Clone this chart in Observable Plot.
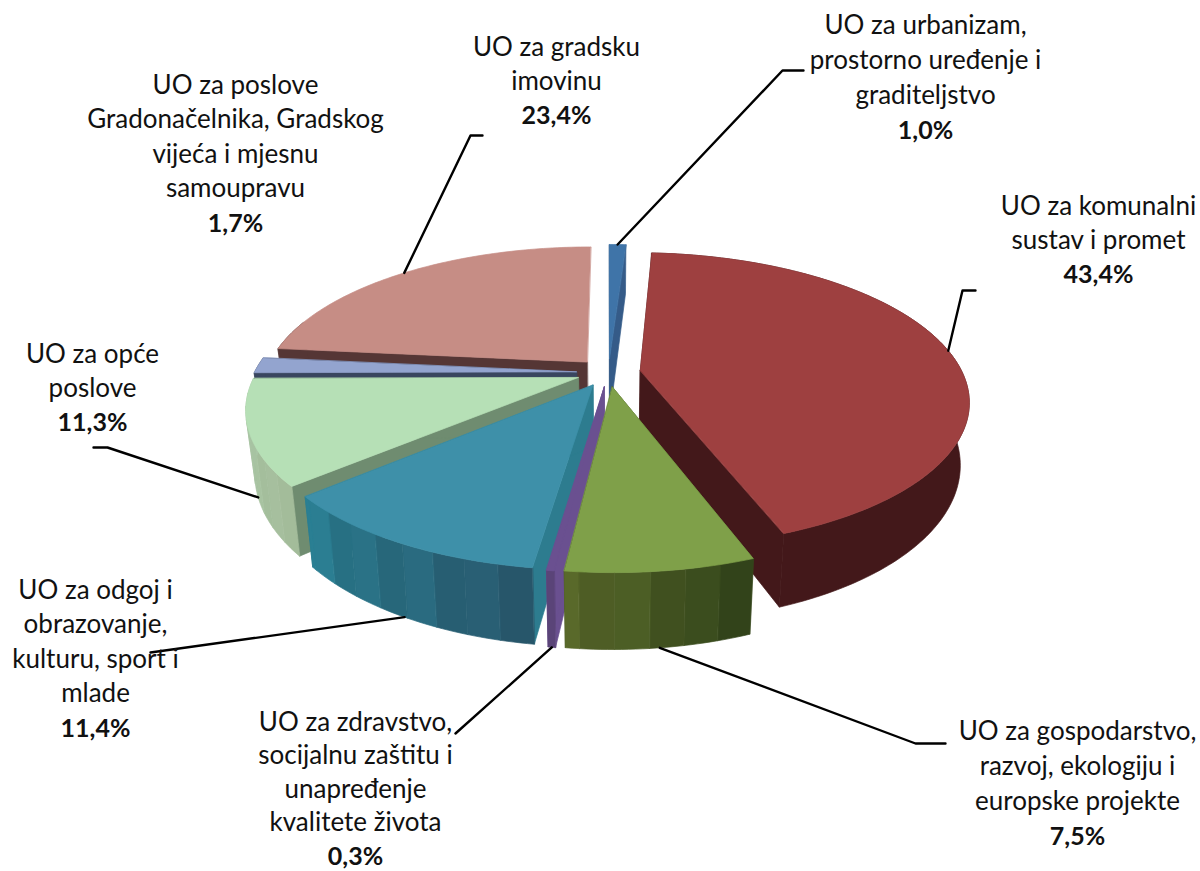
<!DOCTYPE html>
<html>
<head>
<meta charset="utf-8">
<script src="https://cdn.jsdelivr.net/npm/d3@7"></script>
<script src="https://cdn.jsdelivr.net/npm/@observablehq/plot@0.6"></script>
<style>html,body{margin:0;padding:0;background:#fff}svg{display:block}</style>
</head>
<body>
<div id="chart"></div>
<script>
// Data, clockwise from twelve o'clock
const slices = ["blue","red","green","purple","teal","lightgreen","periwinkle","pink"];
const shares = [1.0, 43.4, 7.5, 0.3, 11.4, 11.3, 1.7, 23.4];
const shareLabels = ["1,0%","43,4%","7,5%","0,3%","11,4%","11,3%","1,7%","23,4%"];
const labelLines = [
  ["UO za urbanizam,","prostorno uređenje i","graditeljstvo"],
  ["UO za komunalni","sustav i promet"],
  ["UO za gospodarstvo,","razvoj, ekologiju i","europske projekte"],
  ["UO za zdravstvo,","socijalnu zaštitu i","unapređenje","kvalitete života"],
  ["UO za odgoj i","obrazovanje,","kulturu, sport i","mlade"],
  ["UO za opće","poslove"],
  ["UO za poslove","Gradonačelnika, Gradskog","vijeća i mjesnu","samoupravu"],
  ["UO za gradsku","imovinu"]
];

// Styles per slice
const style = {
  blue:{top:"#3f74a8",side:"#355b88",w0:"#345a85",w1:"#345a85",band:0},
  red:{top:"#9e4040",side:"#43181a",w0:"#43181a",w1:"#43181a",band:0},
  green:{top:"#7fa049",side:"#41501f",w0:"#32431a",w1:"#5a6a2a",band:0.6},
  purple:{top:"#6a5090",side:"#6a5090",w0:"#5a4478",w1:"#5a4478",band:0},
  teal:{top:"#3e90a9",side:"#2d7c8f",w0:"#27566a",w1:"#2a8094",band:0.6},
  lightgreen:{top:"#b6e0b6",side:"#6f8c70",w0:"#a3bc9a",w1:"#abc8a8",band:0.15},
  periwinkle:{top:"#93a4cf",side:"#39465f",w0:"#39465f",w1:"#39465f",band:0},
  pink:{top:"#c68d85",side:"#553635",w0:"#553635",w1:"#553635",band:0,noEnd:true}
};
const wallBands = [0,0.07,-0.03,0.1,-0.05,0.03,-0.07,0.05];
const drawOrder = ["pink","blue","periwinkle","lightgreen","red","teal","purple","green"];

// Label layout: centre x, first-line y, line step
const layout = [
  {cx:925,y0:25,step:35},
  {cx:1098,y0:206,step:34},
  {cx:1077,y0:731,step:35},
  {cx:355,y0:722,step:33.5},
  {cx:95,y0:590,step:34.5},
  {cx:92,y0:354,step:34},
  {cx:235,y0:85,step:34.5},
  {cx:556,y0:47,step:34}
];
// Leader elbows after the slice anchor (none for periwinkle)
const elbows = {
  blue:[[782,70],[803,70]],
  red:[[962,290],[975,290]],
  green:[[915,743],[945,743]],
  purple:[[455,733]],
  teal:[[150,652]],
  lightgreen:[[107,447],[93,447]],
  pink:[[470,135],[482,135]]
};
const leaderBottom = new Set(["green","purple","teal","lightgreen"]);

// Perspective pie model
const Ox=608, Oy=372, R=322, C=142, F=5, H=60, EXPL=0.1, SHRINK=0.975;
function project(X,Z,low){
  const s=F/(F+Z);
  let x=Ox+R*X*s, y=Oy-C*Z*s;
  if(low){ y+=H*s; x=Ox+(x-Ox)*SHRINK; }
  return [x,y];
}
const rad=d=>d*Math.PI/180;
let cum=0;
const geo={};
slices.forEach((id,i)=>{
  const a0=cum*3.6; cum+=shares[i]; const a1=cum*3.6; const m=(a0+a1)/2;
  geo[id]={a0,a1,m,ax:EXPL*Math.sin(rad(m)),az:EXPL*Math.cos(rad(m))};
});
function outer(g,a,low){return project(g.ax+Math.sin(rad(a)),g.az+Math.cos(rad(a)),low);}
function apex(g,low){return project(g.ax,g.az,low);}
function arc(g,a,b,low){
  const pts=[];
  for(let t=a;t<b;t+=1) pts.push(outer(g,t,low));
  pts.push(outer(g,b,low));
  return pts;
}

const polys=[];
function addPoly(id,pts,fill){pts.forEach(p=>polys.push({id,x:p[0],y:p[1],fill}));}
drawOrder.forEach(id=>{
  const g=geo[id], st=style[id];
  // radial walls
  addPoly(id+"-r0",[apex(g),outer(g,g.a0),outer(g,g.a0,true),apex(g,true)],st.side);
  if(!st.noEnd) addPoly(id+"-r1",[apex(g),outer(g,g.a1),outer(g,g.a1,true),apex(g,true)],st.side);
  // outer wall: only the part that faces the viewer
  const step=st.band?5:(g.a1-g.a0);
  const mix=d3.interpolateRgb(st.w0,st.w1);
  let k=0;
  for(let a=g.a0;a<g.a1-1e-6;a+=step,k++){
    const b=Math.min(a+step,g.a1);
    const c=d3.rgb(mix((a-g.a0)/(g.a1-g.a0)));
    const f=1+st.band*wallBands[k%wallBands.length];
    const col=d3.rgb(c.r*f,c.g*f,c.b*f).formatHex();
    const from=st.band?a:Math.max(a,g.a0), to=(id==="pink")?Math.min(b,g.a0+12):b;
    if(id==="blue") continue;
    addPoly(id+"-w"+k,[...arc(g,from,to,false),...arc(g,from,to,true).reverse()],col);
  }
  // top
  addPoly(id+"-top",[apex(g),...arc(g,g.a0,g.a1,false)],st.top);
});

const leaders=[];
Object.entries(elbows).forEach(([id,rest])=>{
  const g=geo[id];
  const start=outer(g,g.m,leaderBottom.has(id));
  [start,...rest].forEach(p=>leaders.push({id,x:p[0],y:p[1]}));
});

const texts=[];
slices.forEach((id,i)=>{
  const L=layout[i];
  labelLines[i].forEach((t,j)=>texts.push({t,x:L.cx,y:L.y0+j*L.step,w:"normal"}));
  texts.push({t:shareLabels[i],x:L.cx,y:L.y0+labelLines[i].length*L.step,w:"bold"});
});

const chart=Plot.plot({
  width:1200,height:871,margin:0,
  style:{background:"#fff",fontFamily:"Lato, sans-serif"},
  x:{domain:[0,1200],range:[0,1200],axis:null},
  y:{domain:[0,871],range:[0,871],axis:null},
  marks:[
    Plot.line(polys,{x:"x",y:"y",z:"id",fill:"fill",stroke:"fill",strokeWidth:0.7,curve:"linear-closed"}),
    Plot.line(leaders,{x:"x",y:"y",z:"id",stroke:"#000",strokeWidth:2.4}),
    Plot.text(texts.filter(d=>d.w==="normal"),{x:"x",y:"y",text:"t",fontSize:26,fill:"#111",fontWeight:"normal"}),
    Plot.text(texts.filter(d=>d.w==="bold"),{x:"x",y:"y",text:"t",fontSize:25,fill:"#111",fontWeight:"bold"})
  ]
});
document.getElementById("chart").appendChild(chart);
</script>
</body>
</html>
